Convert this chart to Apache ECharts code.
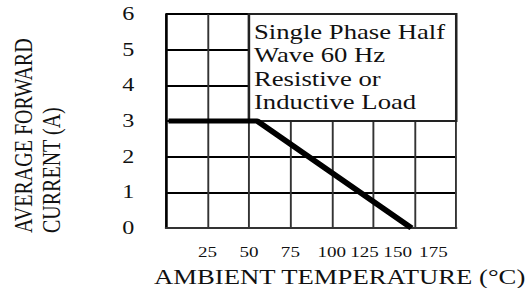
<!DOCTYPE html>
<html>
<head>
<meta charset="utf-8">
<script src="https://cdn.jsdelivr.net/npm/echarts@6/dist/echarts.min.js"></script>
<style>
  html, body { margin: 0; padding: 0; background: #fff; overflow: hidden; }
  #chart { height: 292px; transform-origin: 0 0; }
</style>
</head>
<body>
<div id="chart"></div>
<script>
// 曲线数据 (温度 °C, 电流 A)
const temps = [1.5, 55, 148];
const currents = [3, 3, 0];
// 坐标轴刻度
const xTicks = [0, 25, 50, 75, 100, 125, 150, 175];
const yTicks = [0, 1, 2, 3, 4, 5, 6];
// 图内说明
const noteLines = ["Single Phase Half", "Wave 60 Hz", "Resistive or", "Inductive Load"];
const noteBox = { fromX: 50, fromY: 3, toX: 175, toY: 6 };

// 原图横向被拉宽了, 这里先按窄宽度画, 再用 css 拉伸
const S = 1.27;
const serif = "'Liberation Serif', 'Times New Roman', serif";
const ink = "#111";

const dom = document.getElementById("chart");
dom.style.width = 529 / S + "px";
dom.style.transform = "scaleX(" + S + ")";

// 右侧几个刻度文字在原图中偏左
const labelPad = { 125: 14, 150: 27, 175: 36 };
const rich = {};
Object.keys(labelPad).forEach((k) => {
  rich["p" + k] = { fontSize: 15, fontFamily: serif, color: ink, padding: [0, labelPad[k], 0, 0] };
});

const chart = echarts.init(dom, null, { renderer: "svg" });

const data = temps.map((t, i) => [t, currents[i]]);

const option = {
  animation: false,
  grid: { left: 130.7, right: 52.4, top: 14, bottom: 63 },
  xAxis: {
    type: "value",
    min: xTicks[0],
    max: xTicks[xTicks.length - 1],
    interval: 25,
    name: "AMBIENT TEMPERATURE (\u00B0C)",
    nameLocation: "middle",
    nameGap: 38,
    nameTextStyle: { fontSize: 21, fontFamily: serif, color: ink, padding: [0, 0, 0, 45] },
    axisLine: { lineStyle: { color: "#333", width: 2 } },
    axisTick: { show: false },
    axisLabel: {
      fontSize: 15,
      fontFamily: serif,
      color: ink,
      margin: 17,
      rich: rich,
      formatter: function (v) {
        if (v === 0) return "";
        return labelPad[v] ? "{p" + v + "|" + v + "}" : String(v);
      },
    },
    splitLine: { lineStyle: { color: "#333", width: 1.5 } },
  },
  yAxis: {
    type: "value",
    min: yTicks[0],
    max: yTicks[yTicks.length - 1],
    interval: 1,
    axisLine: { show: true, lineStyle: { color: "#000", width: 2 } },
    axisTick: { show: false },
    axisLabel: { fontSize: 19, fontFamily: serif, color: ink, margin: 25 },
    splitLine: { lineStyle: { color: "#000", width: 2 } },
  },
  graphic: [
    {
      type: "text",
      x: 18.9,
      y: 233,
      rotation: Math.PI / 2,
      style: { text: "AVERAGE FORWARD", fontSize: 20, fontFamily: serif, fill: ink, textAlign: "left", textVerticalAlign: "middle" },
    },
    {
      type: "text",
      x: 41,
      y: 233,
      rotation: Math.PI / 2,
      style: { text: "CURRENT (A)", fontSize: 20, fontFamily: serif, fill: ink, textAlign: "left", textVerticalAlign: "middle" },
    },
  ],
  series: [
    {
      type: "line",
      data: data,
      symbol: "none",
      silent: true,
      lineStyle: { color: "#000", width: 5, cap: "butt" },
      markArea: {
        silent: true,
        itemStyle: { color: "#fff", opacity: 1, borderColor: "#222", borderWidth: 2 },
        label: {
          show: true,
          position: "insideTopLeft",
          distance: 0,
          padding: [7, 0, 0, 5],
          fontSize: 21,
          lineHeight: 23.5,
          fontFamily: serif,
          color: ink,
          formatter: noteLines.join("\n"),
        },
        data: [[{ xAxis: noteBox.fromX, yAxis: noteBox.toY }, { xAxis: noteBox.toX, yAxis: noteBox.fromY }]],
      },
    },
  ],
};

chart.setOption(option);
</script>
</body>
</html>
